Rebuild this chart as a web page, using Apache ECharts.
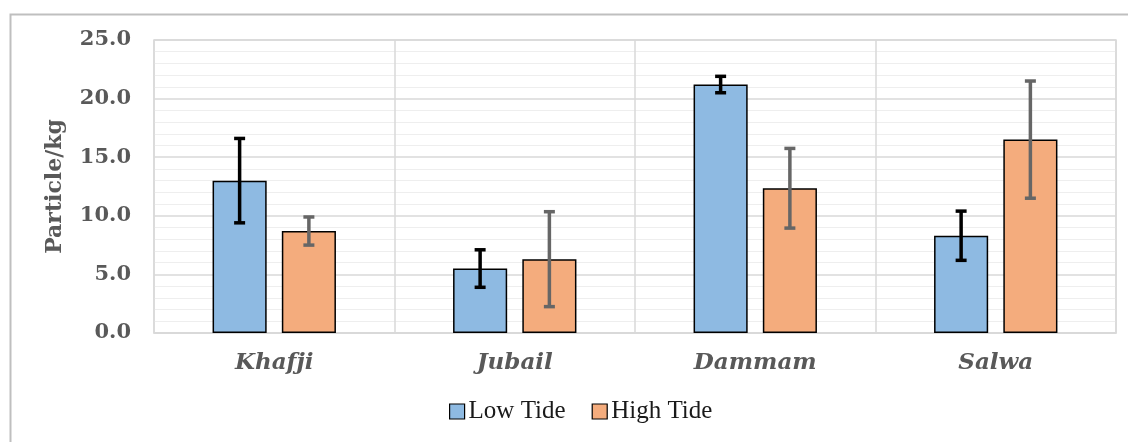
<!DOCTYPE html>
<html>
<head>
<meta charset="utf-8">
<script src="https://cdn.jsdelivr.net/npm/echarts@6/dist/echarts.min.js"></script>
<style>html,body{margin:0;padding:0;background:#fff;}#c{width:1128px;height:442px;}</style>
</head>
<body>
<div id="c"></div>
<script>
var categories = ['Khafji', 'Jubail', 'Dammam', 'Salwa'];
var lowTide = [13.0, 5.5, 21.2, 8.3];
var lowTideErr = [3.6, 1.6, 0.7, 2.1];
var highTide = [8.7, 6.3, 12.35, 16.5];
var highTideErr = [1.2, 4.05, 3.4, 5.0];
var yTicks = [0, 5, 10, 15, 20, 25];

var BAR_FRAC = 0.225, GAP_FRAC = 0.28;

function errData(vals, errs) {
  return vals.map(function (v, i) { return [i, v - errs[i], v + errs[i]]; });
}
function errSeries(name, vals, errs, side, color) {
  return {
    type: 'custom',
    name: name + ' err',
    z: 10,
    silent: true,
    data: errData(vals, errs),
    encode: { x: 0, y: [1, 2] },
    renderItem: function (params, api) {
      var idx = api.value(0);
      var lo = api.coord([idx, api.value(1)]);
      var hi = api.coord([idx, api.value(2)]);
      var catW = api.size([1, 0])[0];
      var bw = catW * BAR_FRAC;
      var gap = bw * GAP_FRAC;
      var x = lo[0] + side * (bw + gap) / 2;
      var cap = 5.5;
      var st = { stroke: color, lineWidth: 3.5 };
      return {
        type: 'group',
        children: [
          { type: 'line', shape: { x1: x, y1: hi[1], x2: x, y2: lo[1] }, style: st },
          { type: 'line', shape: { x1: x - cap, y1: hi[1], x2: x + cap, y2: hi[1] }, style: st },
          { type: 'line', shape: { x1: x - cap, y1: lo[1], x2: x + cap, y2: lo[1] }, style: st }
        ]
      };
    }
  };
}

var chart = echarts.init(document.getElementById('c'), null, { renderer: 'canvas' });
chart.setOption({
  animation: false,
  backgroundColor: '#ffffff',
  graphic: [{
    type: 'rect', left: 8, top: 12, z: -10,
    shape: { width: 1140, height: 450 },
    style: { fill: 'none', stroke: '#bfbfbf', lineWidth: 2 }
  }],
  grid: { left: 154, right: 12, top: 40, bottom: 109, show: true, borderColor: '#d9d9d9', borderWidth: 1.5, backgroundColor: 'transparent' },
  legend: {
    data: ['Low Tide', 'High Tide'],
    bottom: 13,
    left: 444,
    icon: 'rect',
    itemWidth: 15,
    itemHeight: 15,
    itemGap: 26,
    itemStyle: { borderColor: '#000', borderWidth: 1.2 },
    textStyle: { fontFamily: 'Liberation Serif', fontSize: 25, color: '#1a1a1a', padding: [0, 0, 0, -1] }
  },
  xAxis: {
    type: 'category',
    data: categories,
    axisLine: { show: true, lineStyle: { color: '#d9d9d9', width: 1.5 } },
    axisTick: { show: false },
    splitLine: { show: true, lineStyle: { color: '#d9d9d9', width: 1.5 } },
    axisLabel: { margin: 19, fontFamily: 'DejaVu Serif', fontStyle: 'italic', fontWeight: 'bold', fontSize: 23, color: '#595959' }
  },
  yAxis: {
    type: 'value',
    min: yTicks[0],
    max: yTicks[yTicks.length - 1],
    interval: 5,
    name: 'Particle/kg',
    nameLocation: 'middle',
    nameGap: 88,
    nameRotate: 90,
    nameTextStyle: { fontFamily: 'DejaVu Serif', fontWeight: 'bold', fontSize: 22, color: '#595959' },
    axisLine: { show: false },
    axisTick: { show: false },
    axisLabel: { margin: 23, fontFamily: 'DejaVu Serif', fontWeight: 'bold', fontSize: 21, color: '#595959', formatter: function (v) { return v.toFixed(1); } },
    splitLine: { show: true, lineStyle: { color: '#d9d9d9', width: 1.5 } },
    minorTick: { show: false, splitNumber: 5 },
    minorSplitLine: { show: true, lineStyle: { color: '#eeeeee', width: 1.2 } }
  },
  series: [
    {
      type: 'bar', name: 'Low Tide', data: lowTide,
      barWidth: (BAR_FRAC * 100) + '%', barGap: (GAP_FRAC * 100) + '%',
      itemStyle: { color: '#8ebae2', borderColor: '#000', borderWidth: 1.5 }
    },
    {
      type: 'bar', name: 'High Tide', data: highTide,
      barWidth: (BAR_FRAC * 100) + '%', barGap: (GAP_FRAC * 100) + '%',
      itemStyle: { color: '#f4ac7d', borderColor: '#000', borderWidth: 1.5 }
    },
    errSeries('Low Tide', lowTide, lowTideErr, -1, '#000000'),
    errSeries('High Tide', highTide, highTideErr, 1, '#666666')
  ]
});
</script>
</body>
</html>
